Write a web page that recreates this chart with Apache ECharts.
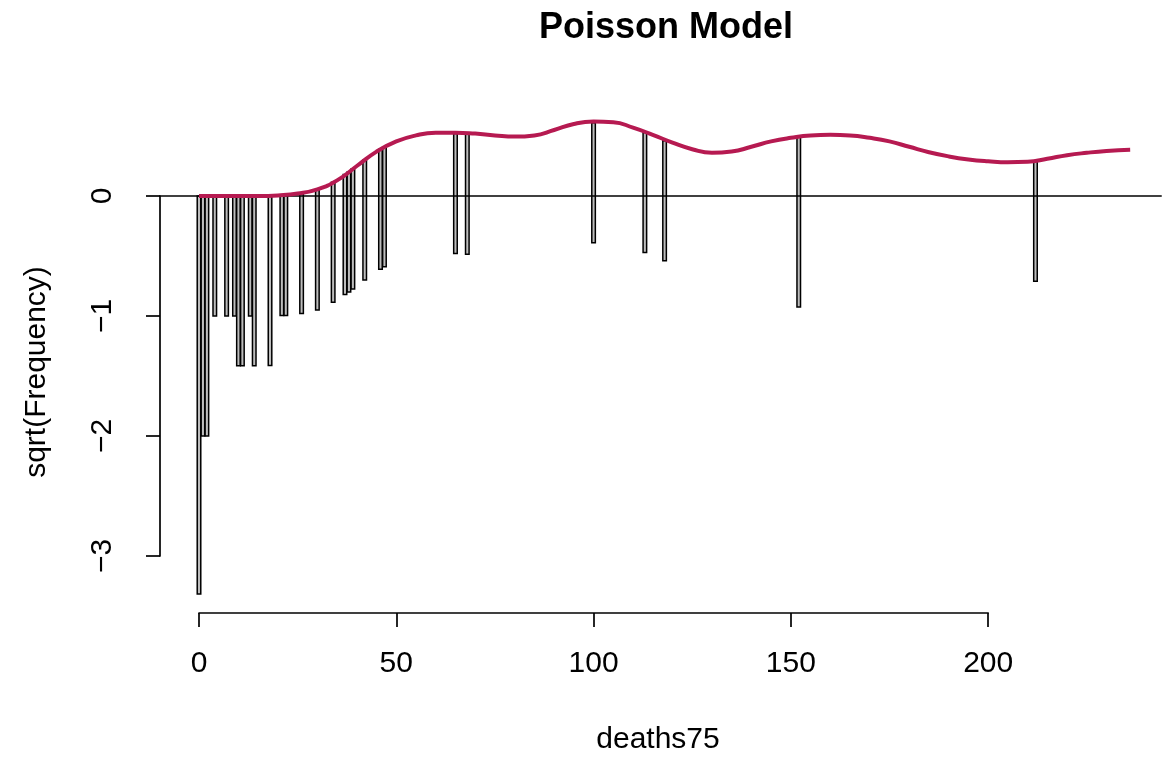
<!DOCTYPE html>
<html>
<head>
<meta charset="utf-8">
<script src="https://cdn.jsdelivr.net/npm/echarts@6/dist/echarts.min.js"></script>
<style>
html,body{margin:0;padding:0;background:#fff;}
#chart{width:1163px;height:764px;}
</style>
</head>
<body>
<div id="chart"></div>
<script>
// Observed counts (hanging bars) at each deaths75 value
const deaths = [0,1,2,4,7,9,10,11,13,14,18,21,22,26,30,34,37,38,39,42,46,47,65,68,100,113,118,152,212];
const observed = [11,4,4,1,1,1,2,2,1,2,2,1,1,1,1,1,1,1,1,1,1,1,1,1,1,1,1,2,1];
// sqrt(expected frequency) at the bar positions (bar tops)
const sqrtExpected = [0,0,0,0,0,0,0,0,0,0,0.002,0.004,0.005,0.02,0.05,0.114,0.18,0.2,0.225,0.3,0.39,0.41,0.52,0.515,0.61,0.53,0.46,0.49,0.29];
// fitted curve sqrt(expected)
const curveX = [0,5,10,15,20,25,30,35,40,45,50,55,60,65,70,75,80,85,90,95,100,105,110,115,120,125,130,135,140,145,150,155,160,165,170,175,180,185,190,195,200,205,210,215,220,225,230,236];
const curveY = [0,0,0,0,0.005,0.02,0.055,0.13,0.25,0.37,0.455,0.505,0.527,0.528,0.52,0.505,0.495,0.505,0.55,0.6,0.62,0.615,0.57,0.51,0.445,0.39,0.36,0.37,0.41,0.455,0.485,0.505,0.51,0.505,0.485,0.455,0.41,0.365,0.33,0.305,0.29,0.282,0.285,0.31,0.34,0.36,0.375,0.385];
const xTicks = [0,50,100,150,200];
const yTicks = [-3,-2,-1,0];

const FONT = '"Liberation Sans", Arial, Helvetica, sans-serif';
const barData = deaths.map((d,i)=>[d, sqrtExpected[i], sqrtExpected[i]-Math.sqrt(observed[i])]);
const curveData = curveX.map((x,i)=>[x, curveY[i]]);

const chart = echarts.init(document.getElementById('chart'), null, {renderer:'canvas'});
const option = {
  animation:false,
  backgroundColor:'#ffffff',
  grid:[
    {left:159.54, top:88, width:1002.2, height:528},
    {left:199, top:88, width:789.2, height:525},
    {left:160, top:196, width:10, height:360}
  ],
  xAxis:[
    {gridIndex:0, type:'value', min:-10, max:244, show:false},
    {gridIndex:1, type:'value', min:xTicks[0], max:xTicks[xTicks.length-1], interval:50, position:'bottom',
     axisLine:{show:true, onZero:false, lineStyle:{color:'#000', width:1.7}},
     axisTick:{show:true, length:14, lineStyle:{color:'#000', width:1.7}},
     axisLabel:{fontSize:30, color:'#000', fontFamily:FONT, margin:36},
     splitLine:{show:false}},
    {gridIndex:2, type:'value', show:false}
  ],
  yAxis:[
    {gridIndex:0, type:'value', min:-3.5, max:0.9, show:false},
    {gridIndex:1, type:'value', show:false},
    {gridIndex:2, type:'value', min:yTicks[0], max:yTicks[yTicks.length-1], interval:1, position:'left',
     axisLine:{show:true, onZero:false, lineStyle:{color:'#000', width:1.7}},
     axisTick:{show:true, length:14, lineStyle:{color:'#000', width:1.7}},
     axisLabel:{fontSize:30, color:'#000', fontFamily:FONT, rotate:90, margin:42,
       formatter:v=>String(v).replace('-', '\u2212')},
     splitLine:{show:false}}
  ],
  graphic:[
    {type:'text', x:666, y:28, style:{text:'Poisson Model', font:'bold 36px '+FONT, fill:'#000', align:'center', verticalAlign:'middle'}},
    {type:'text', x:658, y:740, style:{text:'deaths75', font:'30px '+FONT, fill:'#000', align:'center', verticalAlign:'middle'}},
    {type:'text', x:37, y:372, rotation:Math.PI/2, style:{text:'sqrt(Frequency)', font:'30px '+FONT, fill:'#000', align:'center', verticalAlign:'middle'}}
  ],
  series:[
    {type:'custom', xAxisIndex:0, yAxisIndex:0, data:barData, z:2,
     renderItem:function(params, api){
       const x = api.value(0), top = api.value(1), bot = api.value(2);
       const p1 = api.coord([x-0.45, top]);
       const p2 = api.coord([x+0.45, bot]);
       return {type:'rect', shape:{x:p1[0], y:p1[1], width:p2[0]-p1[0], height:p2[1]-p1[1]},
         style:{fill:'#bdbdbd', stroke:'#000', lineWidth:1.5}};
     },
     markLine:{silent:true, symbol:['none','none'], label:{show:false},
       lineStyle:{color:'#000', width:1.7, type:'solid'}, data:[{yAxis:0}]}
    },
    {type:'line', xAxisIndex:0, yAxisIndex:0, data:curveData, smooth:0.5, showSymbol:false, z:5,
     lineStyle:{color:'#B61A51', width:4}}
  ]
};
chart.setOption(option);
</script>
</body>
</html>
